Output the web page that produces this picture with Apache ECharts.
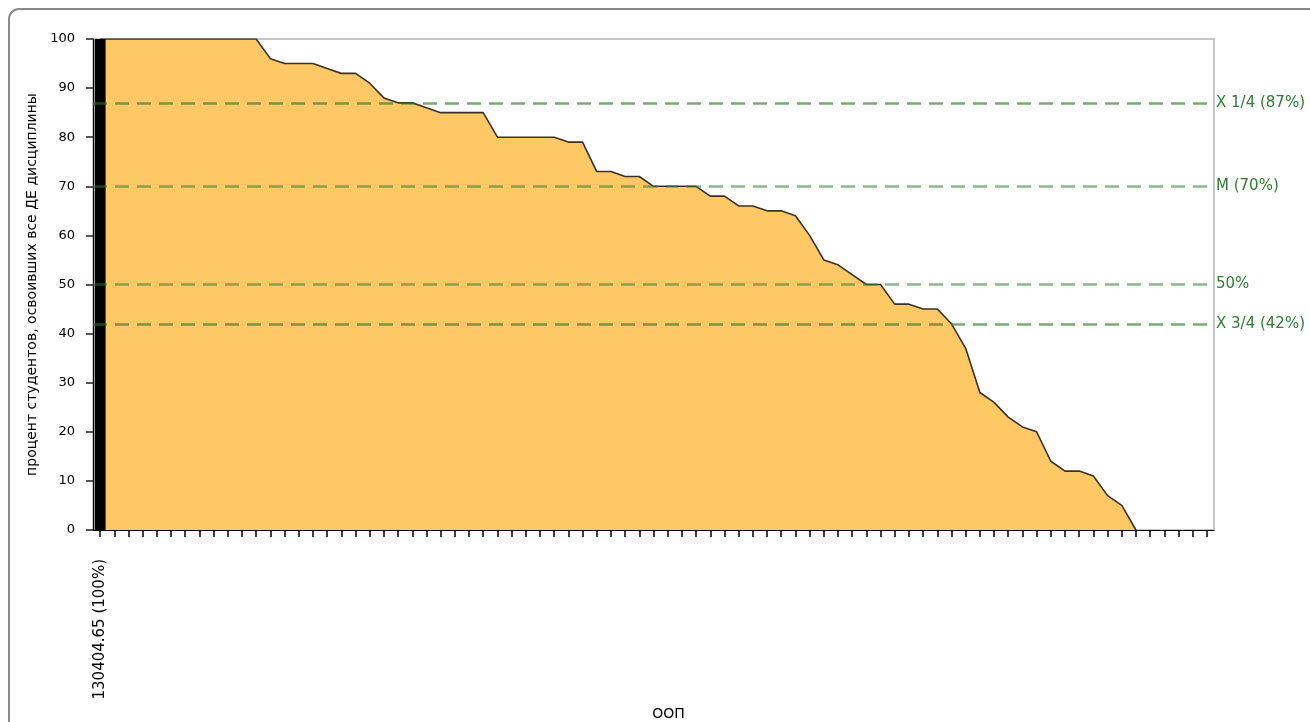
<!DOCTYPE html>
<html>
<head>
<meta charset="utf-8">
<script src="https://cdn.jsdelivr.net/npm/echarts@6/dist/echarts.min.js"></script>
<style>
  html, body { margin: 0; padding: 0; background: #ffffff; }
  #chart { width: 1310px; height: 722px; }
</style>
</head>
<body>
<div id="chart"></div>
<script>
// Programme labels along the x axis (only the highlighted one is named)
const categories = ['130404.65 (100%)'].concat(new Array(78).fill(''));

// Share of students who mastered all units, per programme (sorted descending)
const shares = [
  100, 100, 100, 100, 100, 100, 100, 100, 100, 100, 100, 100,
  96, 95, 95, 95, 94, 93, 93, 91, 88, 87, 87, 86,
  85, 85, 85, 85, 80, 80, 80, 80, 80, 79, 79, 73,
  73, 72, 72, 70, 70, 70, 70, 68, 68, 66, 66, 65,
  65, 64, 60, 55, 54, 52, 50, 50, 46, 46, 45, 45,
  42, 37, 28, 26, 23, 21, 20, 14, 12, 12, 11, 7,
  5, 0, null, null, null, null, null
];

// Highlighted programme drawn as a black bar
const highlight = [100].concat(new Array(78).fill(null));

// Reference levels and their captions
const refValues = [87, 70, 50, 42];
const refLabels = ['X 1/4 (87%)', 'M (70%)', '50%', 'X 3/4 (42%)'];
const refColors = ['rgba(40,118,36,0.62)', 'rgba(46,125,50,0.55)', 'rgba(46,125,50,0.55)', 'rgba(40,118,36,0.62)'];

const yTicks = [0, 10, 20, 30, 40, 50, 60, 70, 80, 90, 100];

const FONT = 'DejaVu Sans';

const chart = echarts.init(document.getElementById('chart'), null, { renderer: 'canvas' });

chart.setOption({
  animation: false,
  backgroundColor: '#ffffff',
  graphic: [{
    type: 'rect',
    shape: { x: 9, y: 9, width: 1400, height: 800, r: 10 },
    style: { fill: 'none', stroke: '#8a8a8a', lineWidth: 2 },
    silent: true,
    z: -10
  }],
  grid: {
    left: 93, right: 96, top: 39, bottom: 192,
    containLabel: false,
    outerBoundsMode: 'none',
    show: true,
    borderColor: '#c6c6c6',
    borderWidth: 2,
    backgroundColor: 'transparent'
  },
  xAxis: {
    type: 'category',
    data: categories,
    boundaryGap: true,
    name: 'ООП',
    nameLocation: 'middle',
    nameGap: 176,
    nameTextStyle: { fontFamily: FONT, fontSize: 14, color: '#000', padding: [0, 0, 0, 30] },
    axisLine: { lineStyle: { color: '#000', width: 1 } },
    axisTick: { show: true, alignWithLabel: true, interval: 0, length: 7, lineStyle: { color: '#000', width: 1.5 } },
    axisLabel: { interval: 0, rotate: 90, fontFamily: FONT, fontSize: 15, color: '#000', margin: 29 },
    splitLine: { show: false }
  },
  yAxis: {
    type: 'value',
    min: 0, max: 100, interval: 10,
    name: 'процент студентов, освоивших все ДЕ дисциплины',
    nameLocation: 'middle',
    nameGap: 54,
    nameTextStyle: { fontFamily: FONT, fontSize: 14, color: '#000' },
    axisLine: { show: true, lineStyle: { color: '#000', width: 1 } },
    axisTick: { show: true, length: 7, lineStyle: { color: '#555', width: 2 } },
    axisLabel: {
      fontFamily: FONT, fontSize: 13, color: '#000', margin: 18,
      formatter: v => (yTicks.indexOf(v) >= 0 ? String(v) : '')
    },
    splitLine: { show: false }
  },
  series: [
    {
      name: 'share',
      type: 'line',
      data: shares,
      symbol: 'none',
      smooth: false,
      lineStyle: { color: '#3b3226', width: 1.6 },
      areaStyle: { color: '#fec865', opacity: 1 },
      z: 2,
      markLine: {
        silent: true,
        symbol: ['none', 'none'],
        z: 5,
        lineStyle: { type: [14, 8], width: 2.5 },
        label: {
          show: true,
          position: 'end',
          distance: 2,
          fontFamily: FONT,
          fontSize: 15,
          color: '#2e7d32'
        },
        data: refValues.map((v, i) => ({
          yAxis: v,
          lineStyle: { color: refColors[i] },
          label: { formatter: refLabels[i] }
        }))
      }
    },
    {
      name: 'highlight',
      type: 'bar',
      data: highlight,
      barWidth: 11,
      itemStyle: { color: '#000000' },
      z: 3
    }
  ]
});
</script>
</body>
</html>
